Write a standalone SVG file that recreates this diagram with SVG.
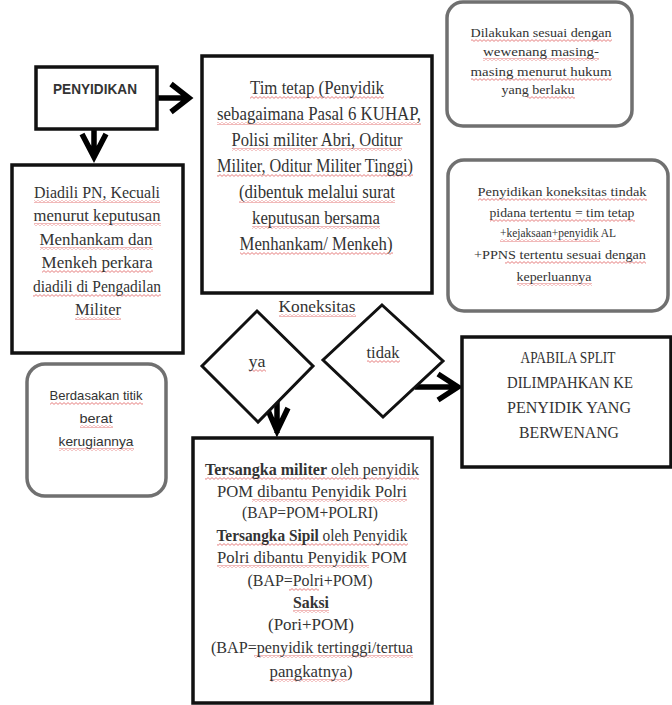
<svg xmlns="http://www.w3.org/2000/svg" width="672" height="705" viewBox="0 0 672 705">
<style>
.box{fill:#fff;stroke:#111;stroke-width:3.5}
.rbox{fill:#fff;stroke:#707070;stroke-width:3.5}
.dia{fill:#fff;stroke:#111;stroke-width:3}
.s{font-family:"Liberation Serif","Times New Roman",serif;fill:#333;text-anchor:middle}
.ss{font-family:"Liberation Sans",Arial,sans-serif;fill:#333;text-anchor:middle}
.b{font-weight:bold}
.w{fill:url(#wave)}
.arr{fill:none;stroke:#000;stroke-width:5.5;stroke-linejoin:miter;stroke-linecap:butt}
</style>
<defs>
<pattern id="wave" patternUnits="userSpaceOnUse" width="4" height="3">
<path d="M0,0.6 L2,2.4 L4,0.6" fill="none" stroke="#e06060" stroke-width="0.8"/>
</pattern>
</defs>
<rect width="672" height="705" fill="#fff"/>
<g id="connectors">
<path class="arr" d="M157,98 H188 M171,84 L189,98 L171,112"/>
<path class="arr" d="M94,129 V156 M82,134 L94,157 L106,134"/>
<path class="arr" d="M277,400 V433 M267,408 L277,431 L288,408"/>
<path class="arr" d="M415,387 H457 M438,374 L458,387 L438,400"/>
</g>
<g id="penyidikan">
<rect class="box" x="36" y="67" width="121" height="62"/>
<text class="ss b" x="95" y="94" font-size="14" textLength="84" lengthAdjust="spacingAndGlyphs">PENYIDIKAN</text>
</g>
<g id="tim-tetap">
<rect class="box" x="202" y="56" width="230" height="237"/>
<g class="w">
<rect x="250" y="96" width="134" height="3"/>
<rect x="217" y="122" width="204" height="3"/>
<rect x="232" y="148" width="170" height="3"/>
<rect x="217" y="174" width="196" height="3"/>
<rect x="239" y="200" width="156" height="3"/>
<rect x="252" y="226" width="128" height="3"/>
<rect x="240" y="252" width="153" height="3"/>
</g>
<g class="s" font-size="18">
<text x="317" y="94" textLength="134" lengthAdjust="spacingAndGlyphs">Tim tetap (Penyidik</text>
<text x="319" y="120" textLength="204" lengthAdjust="spacingAndGlyphs">sebagaimana Pasal 6 KUHAP,</text>
<text x="317" y="146" textLength="171" lengthAdjust="spacingAndGlyphs">Polisi militer Abri, Oditur</text>
<text x="315" y="172" textLength="196" lengthAdjust="spacingAndGlyphs">Militer, Oditur Militer Tinggi)</text>
<text x="317" y="198" textLength="156" lengthAdjust="spacingAndGlyphs">(dibentuk melalui surat</text>
<text x="316" y="224" textLength="128" lengthAdjust="spacingAndGlyphs">keputusan bersama</text>
<text x="316" y="250" textLength="153" lengthAdjust="spacingAndGlyphs">Menhankam/ Menkeh)</text>
</g>
</g>
<g id="diadili">
<rect class="box" x="12" y="165" width="171" height="188"/>
<g class="w">
<rect x="34" y="200" width="126" height="3"/>
<rect x="34" y="223" width="127" height="3"/>
<rect x="40" y="247" width="113" height="3"/>
<rect x="42" y="270" width="111" height="3"/>
<rect x="33" y="294" width="128" height="3"/>
<rect x="75" y="317" width="46" height="3"/>
</g>
<g class="s" font-size="17">
<text x="97" y="198" textLength="126" lengthAdjust="spacingAndGlyphs">Diadili PN, Kecuali</text>
<text x="97" y="221" textLength="127" lengthAdjust="spacingAndGlyphs">menurut keputusan</text>
<text x="96" y="245" textLength="113" lengthAdjust="spacingAndGlyphs">Menhankam dan</text>
<text x="97" y="268" textLength="111" lengthAdjust="spacingAndGlyphs">Menkeh perkara</text>
<text x="97" y="292" textLength="128" lengthAdjust="spacingAndGlyphs">diadili di Pengadilan</text>
<text x="98" y="315" textLength="46" lengthAdjust="spacingAndGlyphs">Militer</text>
</g>
</g>
<g id="dilakukan">
<rect class="rbox" x="447" y="2" width="185" height="124" rx="16"/>
<g class="w">
<rect x="471" y="39" width="141" height="3"/>
<rect x="483" y="58" width="116" height="3"/>
<rect x="471" y="78" width="141" height="3"/>
<rect x="527" y="96" width="48" height="3"/>
</g>
<g class="s" font-size="13.5">
<text x="541" y="37" textLength="141" lengthAdjust="spacingAndGlyphs">Dilakukan sesuai dengan</text>
<text x="541" y="56" textLength="116" lengthAdjust="spacingAndGlyphs">wewenang masing-</text>
<text x="541" y="76" textLength="141" lengthAdjust="spacingAndGlyphs">masing menurut hukum</text>
<text x="538" y="94" textLength="73" lengthAdjust="spacingAndGlyphs">yang berlaku</text>
</g>
</g>
<g id="penyidikan-koneksitas">
<rect class="rbox" x="448" y="160" width="220" height="151" rx="16"/>
<g class="w">
<rect x="478" y="198" width="169" height="3"/>
<rect x="490" y="219" width="145" height="3"/>
<rect x="500" y="239" width="100" height="3"/>
<rect x="505" y="261" width="141" height="3"/>
<rect x="517" y="283" width="75" height="3"/>
</g>
<g class="s" font-size="13.5">
<text x="562" y="196" textLength="169" lengthAdjust="spacingAndGlyphs">Penyidikan koneksitas tindak</text>
<text x="562" y="217" textLength="145" lengthAdjust="spacingAndGlyphs">pidana tertentu = tim tetap</text>
<text x="558" y="237" textLength="116" lengthAdjust="spacingAndGlyphs">+kejaksaan+penyidik AL</text>
<text x="560" y="259" textLength="172" lengthAdjust="spacingAndGlyphs">+PPNS tertentu sesuai dengan</text>
<text x="554" y="281" textLength="75" lengthAdjust="spacingAndGlyphs">keperluannya</text>
</g>
</g>
<g id="berdasakan">
<rect class="rbox" x="27" y="364" width="139" height="132" rx="18"/>
<g class="w">
<rect x="50" y="402" width="93" height="3"/>
<rect x="80" y="425" width="33" height="3"/>
<rect x="59" y="448" width="75" height="3"/>
</g>
<g class="ss" font-size="13">
<text x="96" y="400" textLength="93" lengthAdjust="spacingAndGlyphs">Berdasakan titik</text>
<text x="96" y="423" textLength="33" lengthAdjust="spacingAndGlyphs">berat</text>
<text x="96" y="446" textLength="75" lengthAdjust="spacingAndGlyphs">kerugiannya</text>
</g>
</g>
<g id="koneksitas">
<rect class="w" x="279" y="314" width="77" height="3"/>
<text class="s" x="317" y="312" font-size="17" textLength="77" lengthAdjust="spacingAndGlyphs">Koneksitas</text>
</g>
<g id="ya">
<polygon class="dia" points="257,311 313,366 258,422 202,366"/>
<rect class="w" x="249" y="369" width="17" height="3"/>
<text class="s" x="257" y="367" font-size="16" textLength="17" lengthAdjust="spacingAndGlyphs">ya</text>
</g>
<g id="tidak">
<polygon class="dia" points="382,305 443,361 383,417 323,360"/>
<rect class="w" x="367" y="360" width="33" height="3"/>
<text class="s" x="383" y="358" font-size="16" textLength="33" lengthAdjust="spacingAndGlyphs">tidak</text>
</g>
<g id="apabila">
<rect class="box" x="462" y="337" width="209" height="130"/>
<g class="s" font-size="17">
<text x="568" y="363" textLength="95" lengthAdjust="spacingAndGlyphs">APABILA SPLIT</text>
<text x="570" y="388" textLength="126" lengthAdjust="spacingAndGlyphs">DILIMPAHKAN KE</text>
<text x="569" y="413" textLength="124" lengthAdjust="spacingAndGlyphs">PENYIDIK YANG</text>
<text x="569" y="438" textLength="100" lengthAdjust="spacingAndGlyphs">BERWENANG</text>
</g>
</g>
<g id="tersangka">
<rect class="box" x="193" y="438" width="239" height="265"/>
<g class="w">
<rect x="205" y="477" width="214" height="3"/>
<rect x="252" y="499" width="155" height="3"/>
<rect x="217" y="543" width="191" height="3"/>
<rect x="217" y="565" width="152" height="3"/>
<rect x="289" y="588" width="30" height="3"/>
<rect x="293" y="610" width="36" height="3"/>
<rect x="254" y="655" width="159" height="3"/>
<rect x="270" y="679" width="77" height="3"/>
</g>
<g class="s" font-size="16">
<text x="312" y="475" textLength="214" lengthAdjust="spacingAndGlyphs"><tspan class="b">Tersangka militer</tspan> oleh penyidik</text>
<text x="312" y="497" textLength="190" lengthAdjust="spacingAndGlyphs">POM dibantu Penyidik Polri</text>
<text x="310" y="518" textLength="136" lengthAdjust="spacingAndGlyphs">(BAP=POM+POLRI)</text>
<text x="312" y="541" textLength="191" lengthAdjust="spacingAndGlyphs"><tspan class="b">Tersangka Sipil</tspan> oleh Penyidik</text>
<text x="312" y="563" textLength="190" lengthAdjust="spacingAndGlyphs">Polri dibantu Penyidik POM</text>
<text x="310" y="586" textLength="125" lengthAdjust="spacingAndGlyphs">(BAP=Polri+POM)</text>
<text class="b" x="311" y="608" textLength="36" lengthAdjust="spacingAndGlyphs">Saksi</text>
<text x="311" y="630" textLength="86" lengthAdjust="spacingAndGlyphs">(Pori+POM)</text>
<text x="312" y="653" textLength="202" lengthAdjust="spacingAndGlyphs">(BAP=penyidik tertinggi/tertua</text>
<text x="311" y="677" textLength="83" lengthAdjust="spacingAndGlyphs">pangkatnya)</text>
</g>
</g>
</svg>
